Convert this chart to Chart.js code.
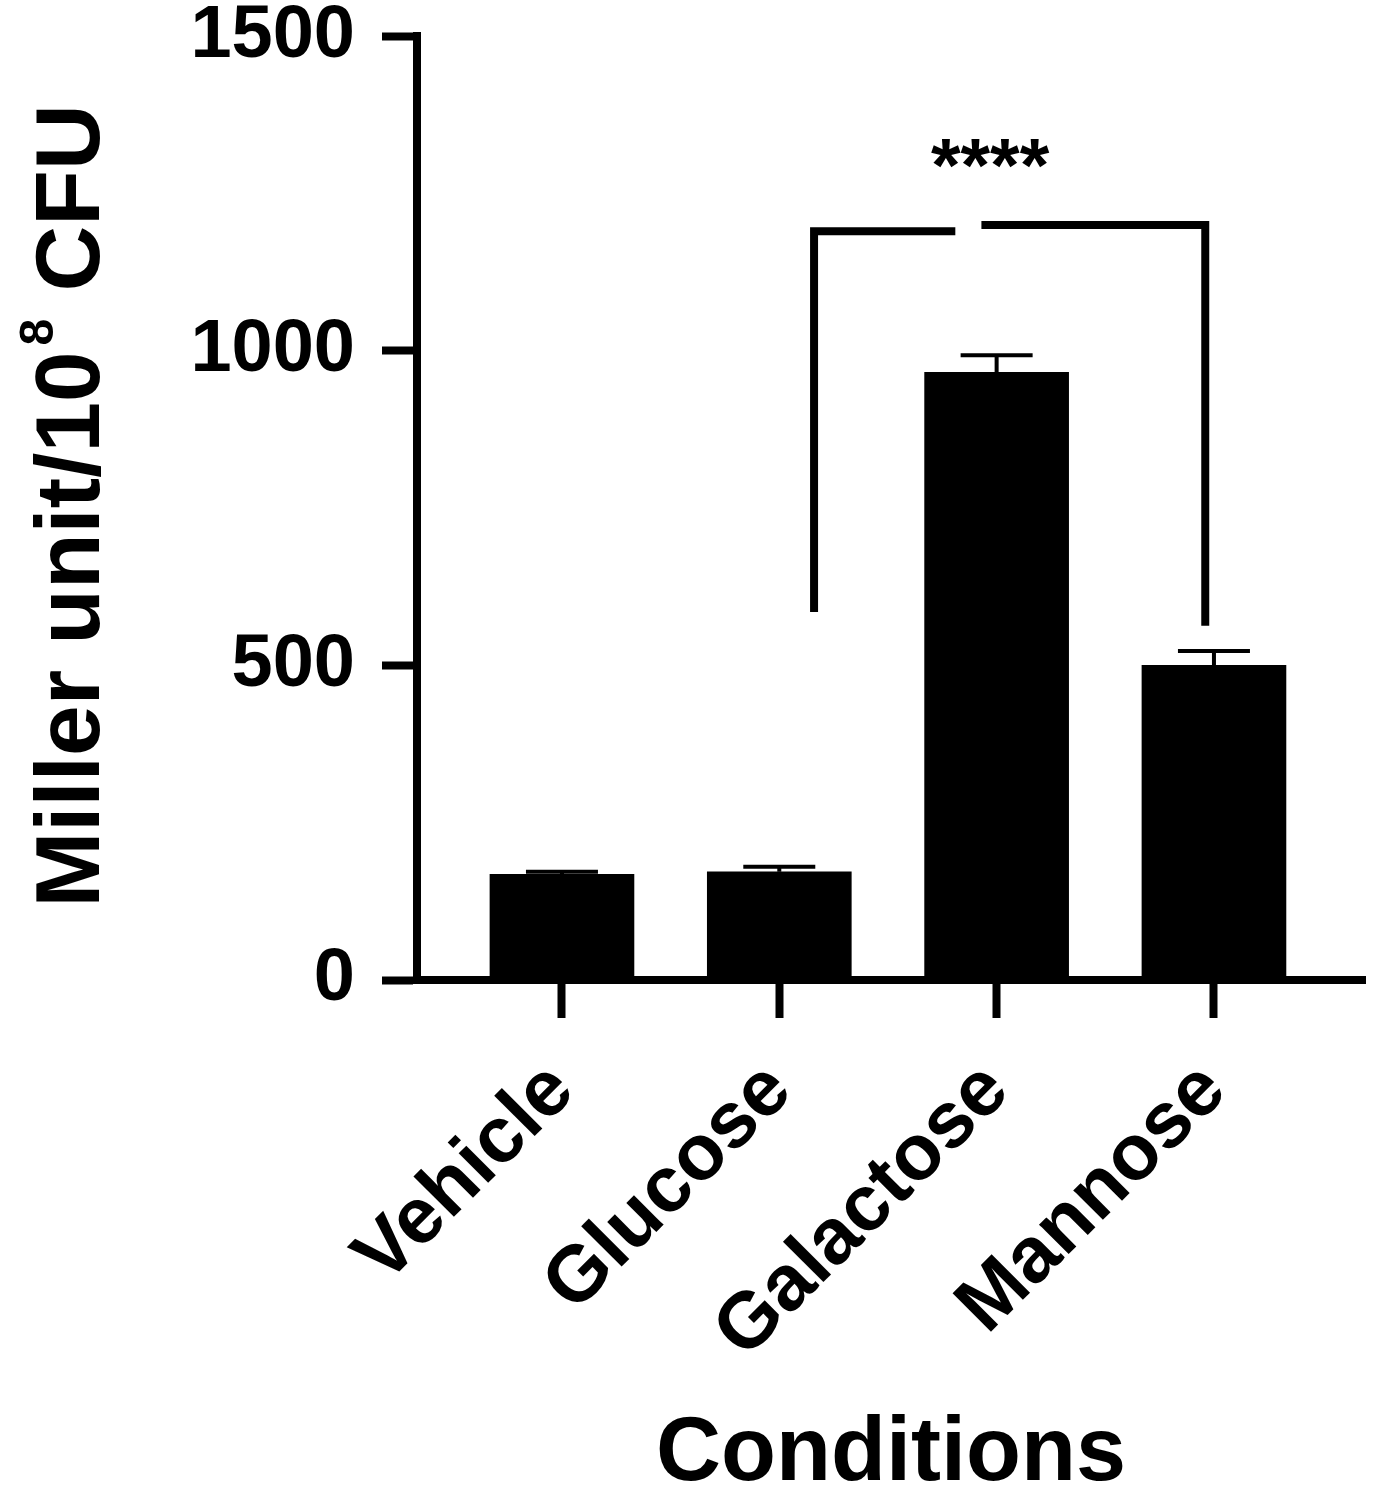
<!DOCTYPE html>
<html>
<head>
<meta charset="utf-8">
<script src="https://cdn.jsdelivr.net/npm/chart.js@4.4.1/dist/chart.umd.min.js"></script>
<style>
    body { margin: 0; background: #fff; }
    canvas { display: block; }
</style>
</head>
<body>
<canvas id="myChart" width="1373" height="1500"></canvas>
<script>
// values (Miller unit / 10^8 CFU)
var categories = ["Vehicle", "Glucose", "Galactose", "Mannose"];
var means = [168, 172, 966, 500];
var errors = [4, 8, 27, 23];
var yTicks = [0, 500, 1000, 1500];

// significance bracket Glucose vs Mannose (x in category units, y in data units)
var bracketLeftX = [1.16, 1.16, 1.81];
var bracketLeftY = [585, 1190, 1190];
var bracketRightX = [1.93, 2.96, 2.96];
var bracketRightY = [1200, 1200, 563];
var sigText = "****";
var sigX = 1.97;
var sigY = 1254;

var FONT = "'Liberation Sans', Arial, sans-serif";

function toPoints(xs, ys) {
    var pts = [];
    for (var i = 0; i < xs.length; i++) {
        pts.push({ x: xs[i], y: ys[i] });
    }
    return pts;
}

var errorBars = {
    id: "errorBars",
    afterDatasetsDraw: function (chart) {
        var ctx = chart.ctx;
        var xs = chart.scales.x, ys = chart.scales.y;
        ctx.save();
        ctx.strokeStyle = "#000";
        ctx.lineWidth = 4;
        for (var i = 0; i < means.length; i++) {
            var x = xs.getPixelForValue(i);
            var yBar = ys.getPixelForValue(means[i]);
            var yTop = ys.getPixelForValue(means[i] + errors[i]);
            ctx.beginPath();
            ctx.moveTo(x, yBar);
            ctx.lineTo(x, yTop);
            ctx.moveTo(x - 36, yTop);
            ctx.lineTo(x + 36, yTop);
            ctx.stroke();
        }
        // asterisks
        ctx.fillStyle = "#000";
        ctx.font = "bold 76px " + FONT;
        ctx.textAlign = "center";
        ctx.textBaseline = "alphabetic";
        ctx.fillText(sigText, xs.getPixelForValue(sigX), ys.getPixelForValue(sigY));
        ctx.restore();
    }
};

var yTitle = {
    id: "yTitle",
    afterDraw: function (chart) {
        var ctx = chart.ctx;
        var a = "Miller unit/10", sup = "8", b = " CFU";
        ctx.save();
        ctx.fillStyle = "#000";
        ctx.font = "bold 91px " + FONT;
        var wa = ctx.measureText(a).width;
        var wb = ctx.measureText(b).width;
        ctx.font = "bold 48px " + FONT;
        var ws = ctx.measureText(sup).width;
        var total = wa + ws + 8 + wb;
        ctx.translate(99, 506);
        ctx.rotate(-Math.PI / 2);
        ctx.textBaseline = "alphabetic";
        ctx.textAlign = "left";
        var x0 = -total / 2;
        ctx.font = "bold 91px " + FONT;
        ctx.fillText(a, x0, 0);
        ctx.font = "bold 48px " + FONT;
        ctx.fillText(sup, x0 + wa + 6, -46);
        ctx.font = "bold 91px " + FONT;
        ctx.fillText(b, x0 + wa + ws + 8, 0);
        ctx.restore();
    }
};

function drawChart() {
    var ctx = document.getElementById("myChart").getContext("2d");
    new Chart(ctx, {
        type: "bar",
        data: {
            datasets: [
                {
                    type: "bar",
                    data: toPoints([0, 1, 2, 3], means),
                    backgroundColor: "#000",
                    borderWidth: 0,
                    barThickness: 144,
                },
                {
                    type: "line",
                    data: toPoints(bracketLeftX, bracketLeftY),
                    borderColor: "#000",
                    borderWidth: 8,
                    borderJoinStyle: "miter",
                    pointRadius: 0,
                    fill: false,
                    tension: 0,
                },
                {
                    type: "line",
                    data: toPoints(bracketRightX, bracketRightY),
                    borderColor: "#000",
                    borderWidth: 8,
                    borderJoinStyle: "miter",
                    pointRadius: 0,
                    fill: false,
                    tension: 0,
                },
            ],
        },
        options: {
            responsive: false,
            animation: false,
            layout: { padding: { left: 0, right: 8, top: 0, bottom: 0 } },
            plugins: {
                legend: { display: false },
                tooltip: { enabled: false },
            },
            scales: {
                x: {
                    type: "linear",
                    offset: false,
                    min: -0.667,
                    max: 3.695,
                    afterBuildTicks: function (scale) {
                        scale.ticks = [0, 1, 2, 3].map(function (v) { return { value: v }; });
                    },
                    afterFit: function (scale) {
                        scale.height = 520;
                    },
                    grid: {
                        offset: false,
                        drawOnChartArea: false,
                        drawTicks: true,
                        tickLength: 38,
                        tickWidth: 8,
                        tickColor: "#000",
                    },
                    border: { display: true, color: "#000", width: 8 },
                    ticks: {
                        autoSkip: false,
                        minRotation: 45,
                        maxRotation: 45,
                        padding: 26,
                        color: "#000",
                        font: { family: FONT, size: 79, weight: "bold", lineHeight: 1.22 },
                        callback: function (value) {
                            return categories[value];
                        },
                    },
                    title: {
                        display: true,
                        text: "Conditions",
                        color: "#000",
                        padding: { top: 0, bottom: 0 },
                        font: { family: FONT, size: 90, weight: "bold", lineHeight: 1 },
                    },
                },
                y: {
                    min: 0,
                    max: 1500,
                    afterBuildTicks: function (scale) {
                        scale.ticks = yTicks.map(function (v) { return { value: v }; });
                    },
                    afterFit: function (scale) {
                        scale.width = 417;
                    },
                    grid: {
                        drawOnChartArea: false,
                        drawTicks: true,
                        tickLength: 35,
                        tickWidth: 8,
                        tickColor: "#000",
                    },
                    border: { display: true, color: "#000", width: 8 },
                    ticks: {
                        padding: 27,
                        color: "#000",
                        font: { family: FONT, size: 74, weight: "bold", lineHeight: 0.25 },
                        callback: function (value) {
                            return String(value);
                        },
                    },
                },
            },
        },
        plugins: [errorBars, yTitle],
    });
}

window.onload = drawChart;
</script>
</body>
</html>
